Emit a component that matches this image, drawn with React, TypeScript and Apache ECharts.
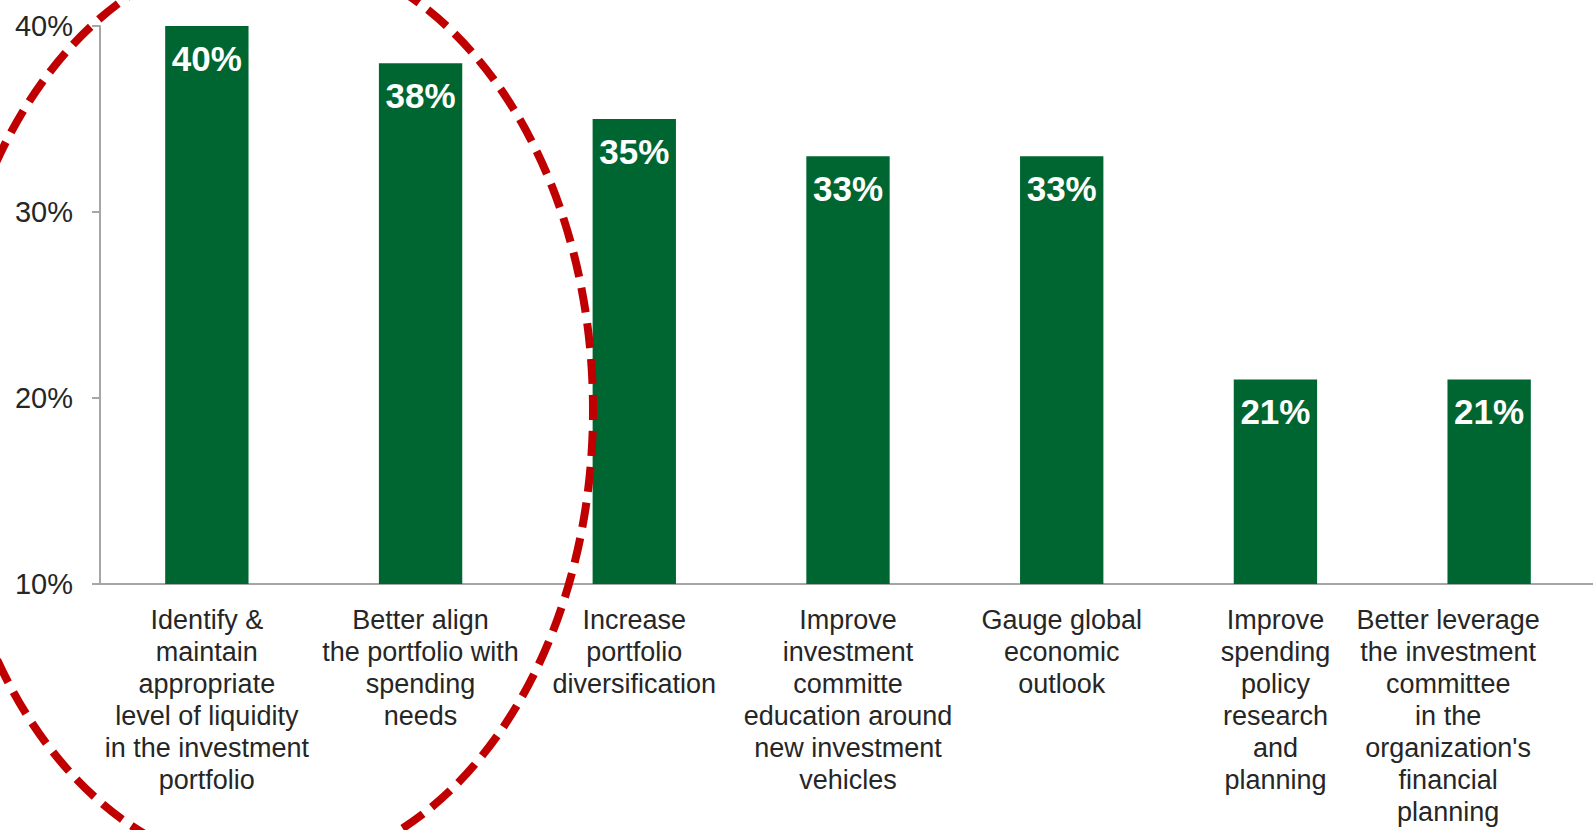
import React, { useEffect, useRef } from "react";
import * as echarts from "echarts";

const categories: string[] = [
  "Identify &\nmaintain\nappropriate\nlevel of liquidity\nin the investment\nportfolio",
  "Better align\nthe portfolio with\nspending\nneeds",
  "Increase\nportfolio\ndiversification",
  "Improve\ninvestment\ncommitte\neducation around\nnew investment\nvehicles",
  "Gauge global\neconomic\noutlook",
  "Improve\nspending\npolicy\nresearch\nand\nplanning",
  "Better leverage\nthe investment\ncommittee\nin the\norganization's\nfinancial\nplanning",
];
const values: number[] = [40, 38, 35, 33, 33, 21, 21];
const yTicks: number[] = [10, 20, 30, 40];

const FONT = "'Liberation Sans', Arial, sans-serif";

export default function App() {
  const ref = useRef<HTMLDivElement>(null);
  useEffect(() => {
    if (!ref.current) return;
    const chart = echarts.init(ref.current, undefined, { renderer: "svg" });
    chart.setOption({
      animation: false,
      backgroundColor: "#ffffff",
      grid: {
        left: 100,
        top: 26,
        width: 1496,
        height: 558,
        containLabel: false,
        outerBoundsMode: "none",
      },
      xAxis: {
        type: "category",
        data: categories.map((c, i) =>
          i === categories.length - 1
            ? { value: c, textStyle: { padding: [0, 82, 0, 0] } }
            : c
        ),
        axisLine: { show: true, lineStyle: { color: "#a6a6a6", width: 2 } },
        axisTick: { show: false },
        axisLabel: {
          interval: 0,
          hideOverlap: false,
          margin: 20,
          fontSize: 27,
          lineHeight: 32,
          color: "#262626",
          fontFamily: FONT,
          align: "center",
        },
      },
      yAxis: {
        type: "value",
        min: yTicks[0],
        max: yTicks[yTicks.length - 1],
        interval: 10,
        axisLine: { show: true, lineStyle: { color: "#a6a6a6", width: 2 } },
        axisTick: { show: true, length: 8, lineStyle: { color: "#a6a6a6", width: 2 } },
        splitLine: { show: false },
        axisLabel: {
          formatter: "{value}%",
          margin: 27,
          fontSize: 29,
          color: "#262626",
          fontFamily: FONT,
        },
      },
      series: [
        {
          type: "bar",
          data: values,
          barWidth: "39%",
          itemStyle: { color: "#006631" },
          label: {
            show: true,
            position: "insideTop",
            distance: 15,
            formatter: "{c}%",
            color: "#ffffff",
            fontWeight: "bold",
            fontSize: 35,
            fontFamily: FONT,
          },
        },
      ],
      graphic: [
        {
          type: "ellipse",
          z: 100,
          silent: true,
          shape: { cx: 269, cy: 410, rx: 324, ry: 459 },
          style: {
            fill: "none",
            stroke: "#C00000",
            lineWidth: 8,
            lineDash: [25, 11],
          },
        },
      ],
    });
    return () => chart.dispose();
  }, []);
  return (
    <div
      ref={ref}
      style={{ position: "fixed", left: 0, top: 0, width: 1593, height: 830, background: "#fff" }}
    />
  );
}
